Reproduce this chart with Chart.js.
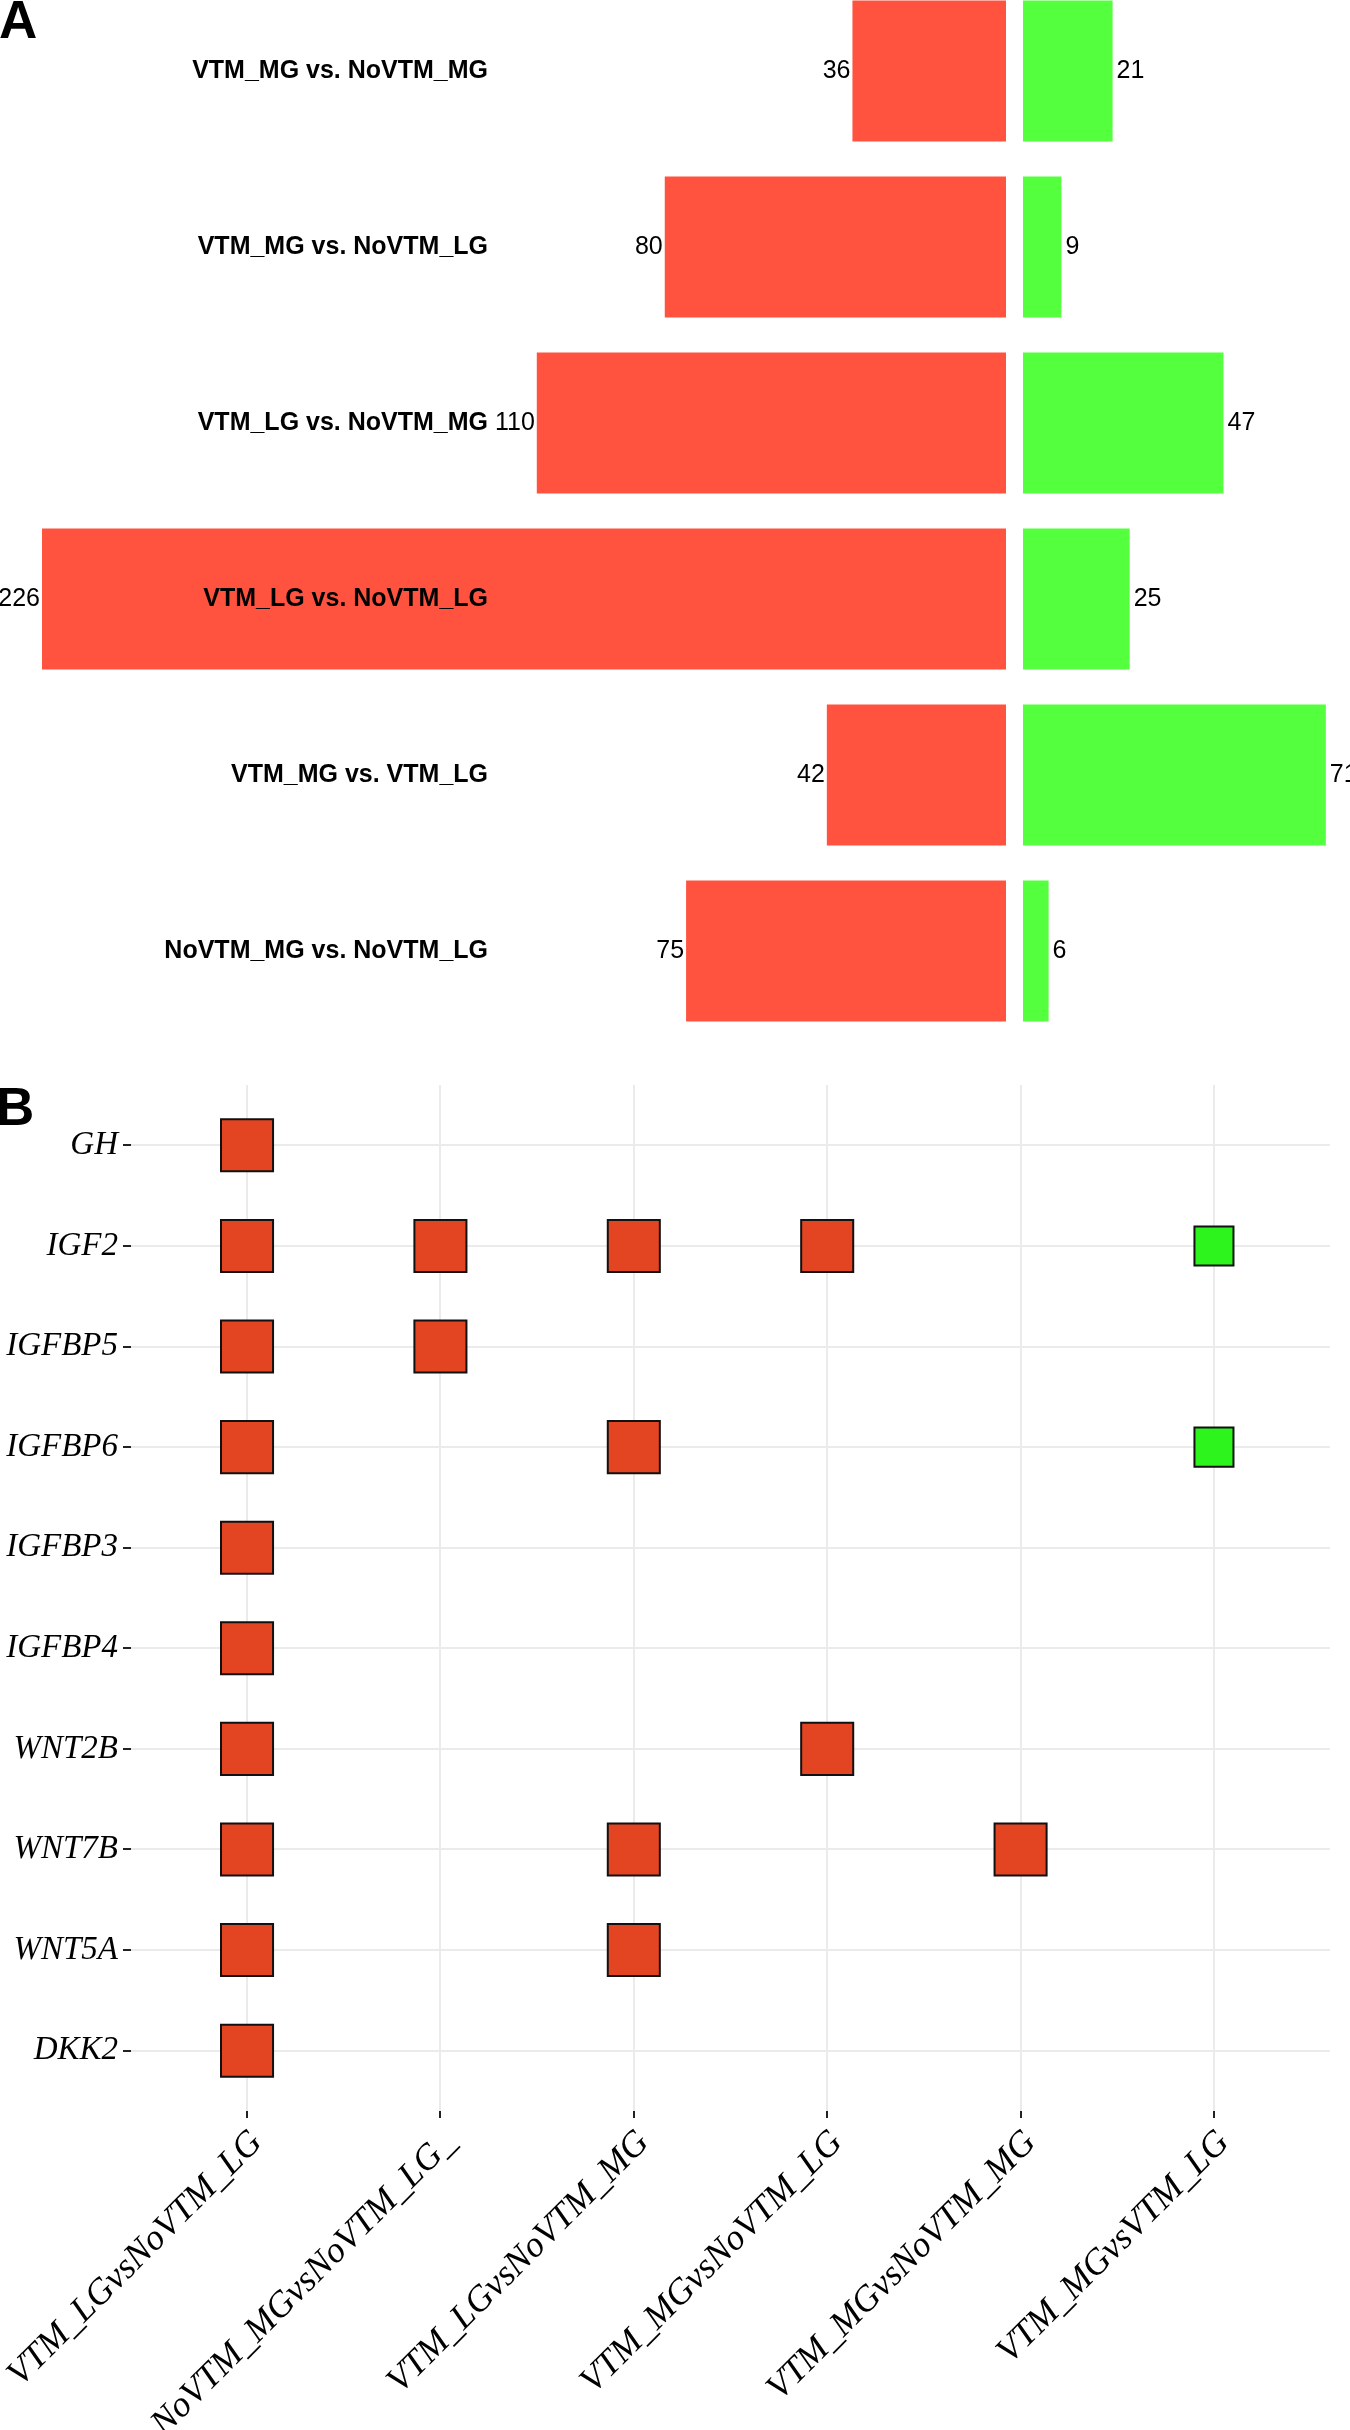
<!DOCTYPE html>
<html>
<head>
<meta charset="utf-8">
<script src="https://cdn.jsdelivr.net/npm/chart.js@4"></script>
<style>
  body { margin: 0; background: #fff; }
  #page { position: relative; width: 1350px; height: 2430px; overflow: hidden; }
  canvas { position: absolute; }
  .tag { position: absolute; font: bold 53px "Liberation Sans", Arial, sans-serif; line-height: 1; color: #000; }
</style>
</head>
<body>
<div id="page">
  <canvas id="upChart" width="1006" height="1056" style="left:0;top:-17px"></canvas>
  <canvas id="downChart" width="327" height="1056" style="left:1023px;top:-17px"></canvas>
  <canvas id="geneChart" width="1350" height="1350" style="left:0;top:1080px"></canvas>
  <div class="tag" style="left:-1px;top:-7px">A</div>
  <div class="tag" style="left:-4px;top:1080px">B</div>
</div>
<script>
// panel A : number of DEGs per comparison
const comparisonsA = ['VTM_MG vs. NoVTM_MG', 'VTM_MG vs. NoVTM_LG', 'VTM_LG vs. NoVTM_MG',
                      'VTM_LG vs. NoVTM_LG', 'VTM_MG vs. VTM_LG', 'NoVTM_MG vs. NoVTM_LG'];
const upCounts = [36, 80, 110, 226, 42, 75];
const downCounts = [21, 9, 47, 25, 71, 6];

// panel B : genes found in each comparison
const genes = ['GH', 'IGF2', 'IGFBP5', 'IGFBP6', 'IGFBP3', 'IGFBP4', 'WNT2B', 'WNT7B', 'WNT5A', 'DKK2'];
const comparisonsB = ['VTM_LGvsNoVTM_LG', 'NoVTM_MGvsNoVTM_LG_', 'VTM_LGvsNoVTM_MG',
                      'VTM_MGvsNoVTM_LG', 'VTM_MGvsNoVTM_MG', 'VTM_MGvsVTM_LG'];
const upCells = [
    ['GH', 'VTM_LGvsNoVTM_LG'],
    ['IGF2', 'VTM_LGvsNoVTM_LG'], ['IGF2', 'NoVTM_MGvsNoVTM_LG_'], ['IGF2', 'VTM_LGvsNoVTM_MG'], ['IGF2', 'VTM_MGvsNoVTM_LG'],
    ['IGFBP5', 'VTM_LGvsNoVTM_LG'], ['IGFBP5', 'NoVTM_MGvsNoVTM_LG_'],
    ['IGFBP6', 'VTM_LGvsNoVTM_LG'], ['IGFBP6', 'VTM_LGvsNoVTM_MG'],
    ['IGFBP3', 'VTM_LGvsNoVTM_LG'],
    ['IGFBP4', 'VTM_LGvsNoVTM_LG'],
    ['WNT2B', 'VTM_LGvsNoVTM_LG'], ['WNT2B', 'VTM_MGvsNoVTM_LG'],
    ['WNT7B', 'VTM_LGvsNoVTM_LG'], ['WNT7B', 'VTM_LGvsNoVTM_MG'], ['WNT7B', 'VTM_MGvsNoVTM_MG'],
    ['WNT5A', 'VTM_LGvsNoVTM_LG'], ['WNT5A', 'VTM_LGvsNoVTM_MG'],
    ['DKK2', 'VTM_LGvsNoVTM_LG']
];
const downCells = [['IGF2', 'VTM_MGvsVTM_LG'], ['IGFBP6', 'VTM_MGvsVTM_LG']];

const RED_A = '#FF5340';
const GREEN_A = '#54FF3E';
const RED_B = '#E34522';
const GREEN_B = '#2DF41C';
const PX_PER_GENE = 964 / 226;   // same scale for both halves of panel A

const sansFont = '"Liberation Sans", Arial, Helvetica, sans-serif';
const serifFont = '"Liberation Serif", "Times New Roman", serif';

// category names written over the left half
const rowLabels = {
    id: 'rowLabels',
    afterDatasetsDraw(chart) {
        const ctx = chart.ctx;
        const y = chart.scales.y;
        ctx.save();
        ctx.font = 'bold 25px ' + sansFont;
        ctx.fillStyle = '#000';
        ctx.textAlign = 'right';
        ctx.textBaseline = 'middle';
        comparisonsA.forEach((name, i) => ctx.fillText(name, 488, y.getPixelForValue(i)));
        ctx.restore();
    }
};

// count next to the end of each bar
const valueLabels = {
    id: 'valueLabels',
    afterDatasetsDraw(chart, args, opts) {
        const ctx = chart.ctx;
        const meta = chart.getDatasetMeta(0);
        const data = chart.data.datasets[0].data;
        ctx.save();
        ctx.font = '25px ' + sansFont;
        ctx.fillStyle = '#000';
        ctx.textBaseline = 'middle';
        ctx.textAlign = opts.side === 'left' ? 'right' : 'left';
        meta.data.forEach((bar, i) => {
            const x = opts.side === 'left' ? bar.x - 2 : bar.x + 4;
            ctx.fillText(String(data[i]), x, bar.y);
        });
        ctx.restore();
    }
};

function barOptions(width, reverse, side) {
    return {
        indexAxis: 'y',
        responsive: false,
        animation: false,
        devicePixelRatio: 1,
        layout: { padding: 0, autoPadding: false },
        scales: {
            x: { display: false, min: 0, max: width / PX_PER_GENE, reverse: reverse },
            y: { display: false }
        },
        plugins: {
            legend: { display: false },
            tooltip: { enabled: false },
            valueLabels: { side: side }
        }
    };
}

new Chart(document.getElementById('upChart'), {
    type: 'bar',
    data: {
        labels: comparisonsA,
        datasets: [{
            data: upCounts,
            backgroundColor: RED_A,
            borderWidth: 0,
            barPercentage: 0.8,
            categoryPercentage: 1
        }]
    },
    options: barOptions(1006, true, 'left'),
    plugins: [valueLabels, rowLabels]
});

new Chart(document.getElementById('downChart'), {
    type: 'bar',
    data: {
        labels: comparisonsA,
        datasets: [{
            data: downCounts,
            backgroundColor: GREEN_A,
            borderWidth: 0,
            barPercentage: 0.8,
            categoryPercentage: 1
        }]
    },
    options: barOptions(327, false, 'right'),
    plugins: [valueLabels]
});

// panel B
function toPoints(cells) {
    return cells.map(c => ({ x: comparisonsB.indexOf(c[1]), y: genes.indexOf(c[0]) }));
}

// keep the plot area where it is, labels may overflow
function noPadding(axis) {
    axis.paddingTop = 0;
    axis.paddingBottom = 0;
    axis.paddingLeft = 0;
    axis.paddingRight = 0;
}

new Chart(document.getElementById('geneChart'), {
    type: 'scatter',
    data: {
        datasets: [{
            data: toPoints(upCells),
            pointStyle: 'rect',
            pointRadius: 36.8,
            backgroundColor: RED_B,
            borderColor: '#111',
            borderWidth: 2
        }, {
            data: toPoints(downCells),
            pointStyle: 'rect',
            pointRadius: 27.6,
            backgroundColor: GREEN_B,
            borderColor: '#111',
            borderWidth: 2
        }]
    },
    options: {
        responsive: false,
        animation: false,
        devicePixelRatio: 1,
        layout: { padding: { left: 0, top: 5, right: 20, bottom: 0 }, autoPadding: false },
        scales: {
            x: {
                type: 'linear',
                min: -0.6,
                max: 5.6,
                afterBuildTicks: axis => { axis.ticks = comparisonsB.map((_, i) => ({ value: i })); },
                afterFit: axis => { axis.height = 319; noPadding(axis); },
                border: { display: false },
                grid: { color: '#EBEBEB', lineWidth: 2, tickColor: '#222', tickLength: 7, tickWidth: 2 },
                ticks: {
                    autoSkip: false,
                    minRotation: 45,
                    maxRotation: 45,
                    padding: 4,
                    labelOffset: 10,
                    color: '#000',
                    font: { family: serifFont, style: 'italic', size: 36 },
                    callback: v => comparisonsB[v]
                }
            },
            y: {
                type: 'linear',
                min: -0.6,
                max: 9.6,
                reverse: true,
                afterBuildTicks: axis => { axis.ticks = genes.map((_, i) => ({ value: i })); },
                afterFit: axis => { axis.width = 131; noPadding(axis); },
                border: { display: false },
                grid: { color: '#EBEBEB', lineWidth: 2, tickColor: '#222', tickLength: 8, tickWidth: 2 },
                ticks: {
                    autoSkip: false,
                    padding: 5,
                    color: '#000',
                    font: { family: serifFont, style: 'italic', size: 33 },
                    callback: v => genes[v]
                }
            }
        },
        plugins: {
            legend: { display: false },
            tooltip: { enabled: false }
        }
    }
});
</script>
</body>
</html>
